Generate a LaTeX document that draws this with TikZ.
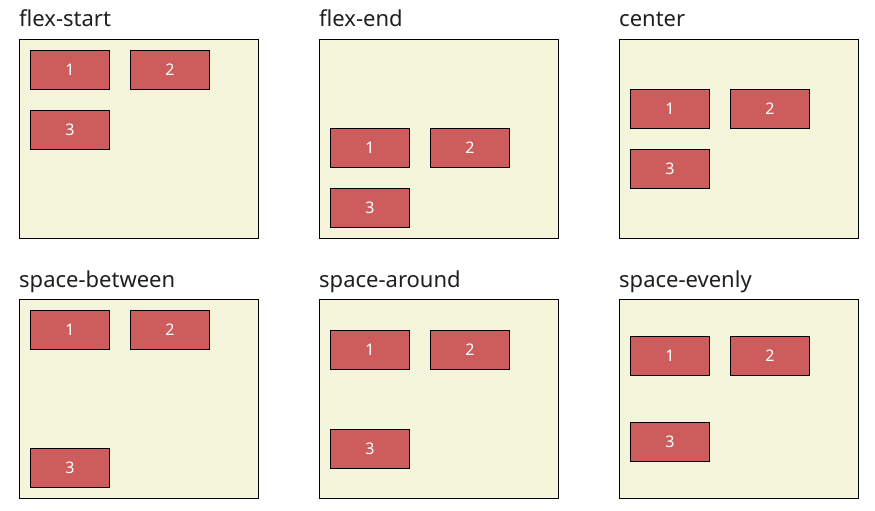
\documentclass[tikz,border=0pt]{standalone}
\usepackage{fontspec}
\setmainfont{Noto Sans}
\usetikzlibrary{positioning}
\definecolor{panelbg}{HTML}{F5F5DC}
\definecolor{itemred}{HTML}{CD5C5C}
\tikzset{
  panel/.style={rectangle,draw,fill=panelbg,line width=1pt,anchor=north west,inner sep=0pt,outer sep=0pt,minimum width=239pt,minimum height=199pt},
  item/.style={rectangle,draw,fill=itemred,line width=1pt,anchor=north west,inner sep=0pt,outer sep=0pt,minimum width=79pt,minimum height=39pt,text=white,font=\fontsize{16}{19}\selectfont},
  title/.style={anchor=base west,inner sep=0pt,text=black!88,font=\fontsize{22}{26}\selectfont}
}

\begin{document}
\begin{tikzpicture}[x=1pt,y=-1pt,node distance=21pt]
\useasboundingbox (0,0) rectangle (875,511);
% first row
\node[title] at (19,27) (tstart) {flex-start};
\node[panel] at (19.5,39.5) (pstart) {};
\node[item] at (30.5,50.5) (s1) {1};
\node[item, right=of s1.north east, anchor=north west] (s2) {2};
\node[item] at (30.5,110.5) (s3) {3};

\node[title] at (319,27) (tend) {flex-end};
\node[panel] at (319.5,39.5) (pend) {};
\node[item] at (330.5,128.5) (e1) {1};
\node[item, right=of e1.north east, anchor=north west] (e2) {2};
\node[item] at (330.5,188.5) (e3) {3};

\node[title] at (619,27) (tcenter) {center};
\node[panel] at (619.5,39.5) (pcenter) {};
\node[item] at (630.5,89.5) (c1) {1};
\node[item, right=of c1.north east, anchor=north west] (c2) {2};
\node[item] at (630.5,149.5) (c3) {3};

% second row
\node[title] at (19,287) (tbetween) {space-between};
\node[panel] at (19.5,299.5) (pbetween) {};
\node[item] at (30.5,310.5) (b1) {1};
\node[item, right=of b1.north east, anchor=north west] (b2) {2};
\node[item] at (30.5,448.5) (b3) {3};

\node[title] at (319,287) (taround) {space-around};
\node[panel] at (319.5,299.5) (paround) {};
\node[item] at (330.5,330.5) (a1) {1};
\node[item, right=of a1.north east, anchor=north west] (a2) {2};
\node[item] at (330.5,429.5) (a3) {3};

\node[title] at (619,287) (tevenly) {space-evenly};
\node[panel] at (619.5,299.5) (pevenly) {};
\node[item] at (630.5,336.5) (v1) {1};
\node[item, right=of v1.north east, anchor=north west] (v2) {2};
\node[item] at (630.5,422.5) (v3) {3};
\end{tikzpicture}
\end{document}
